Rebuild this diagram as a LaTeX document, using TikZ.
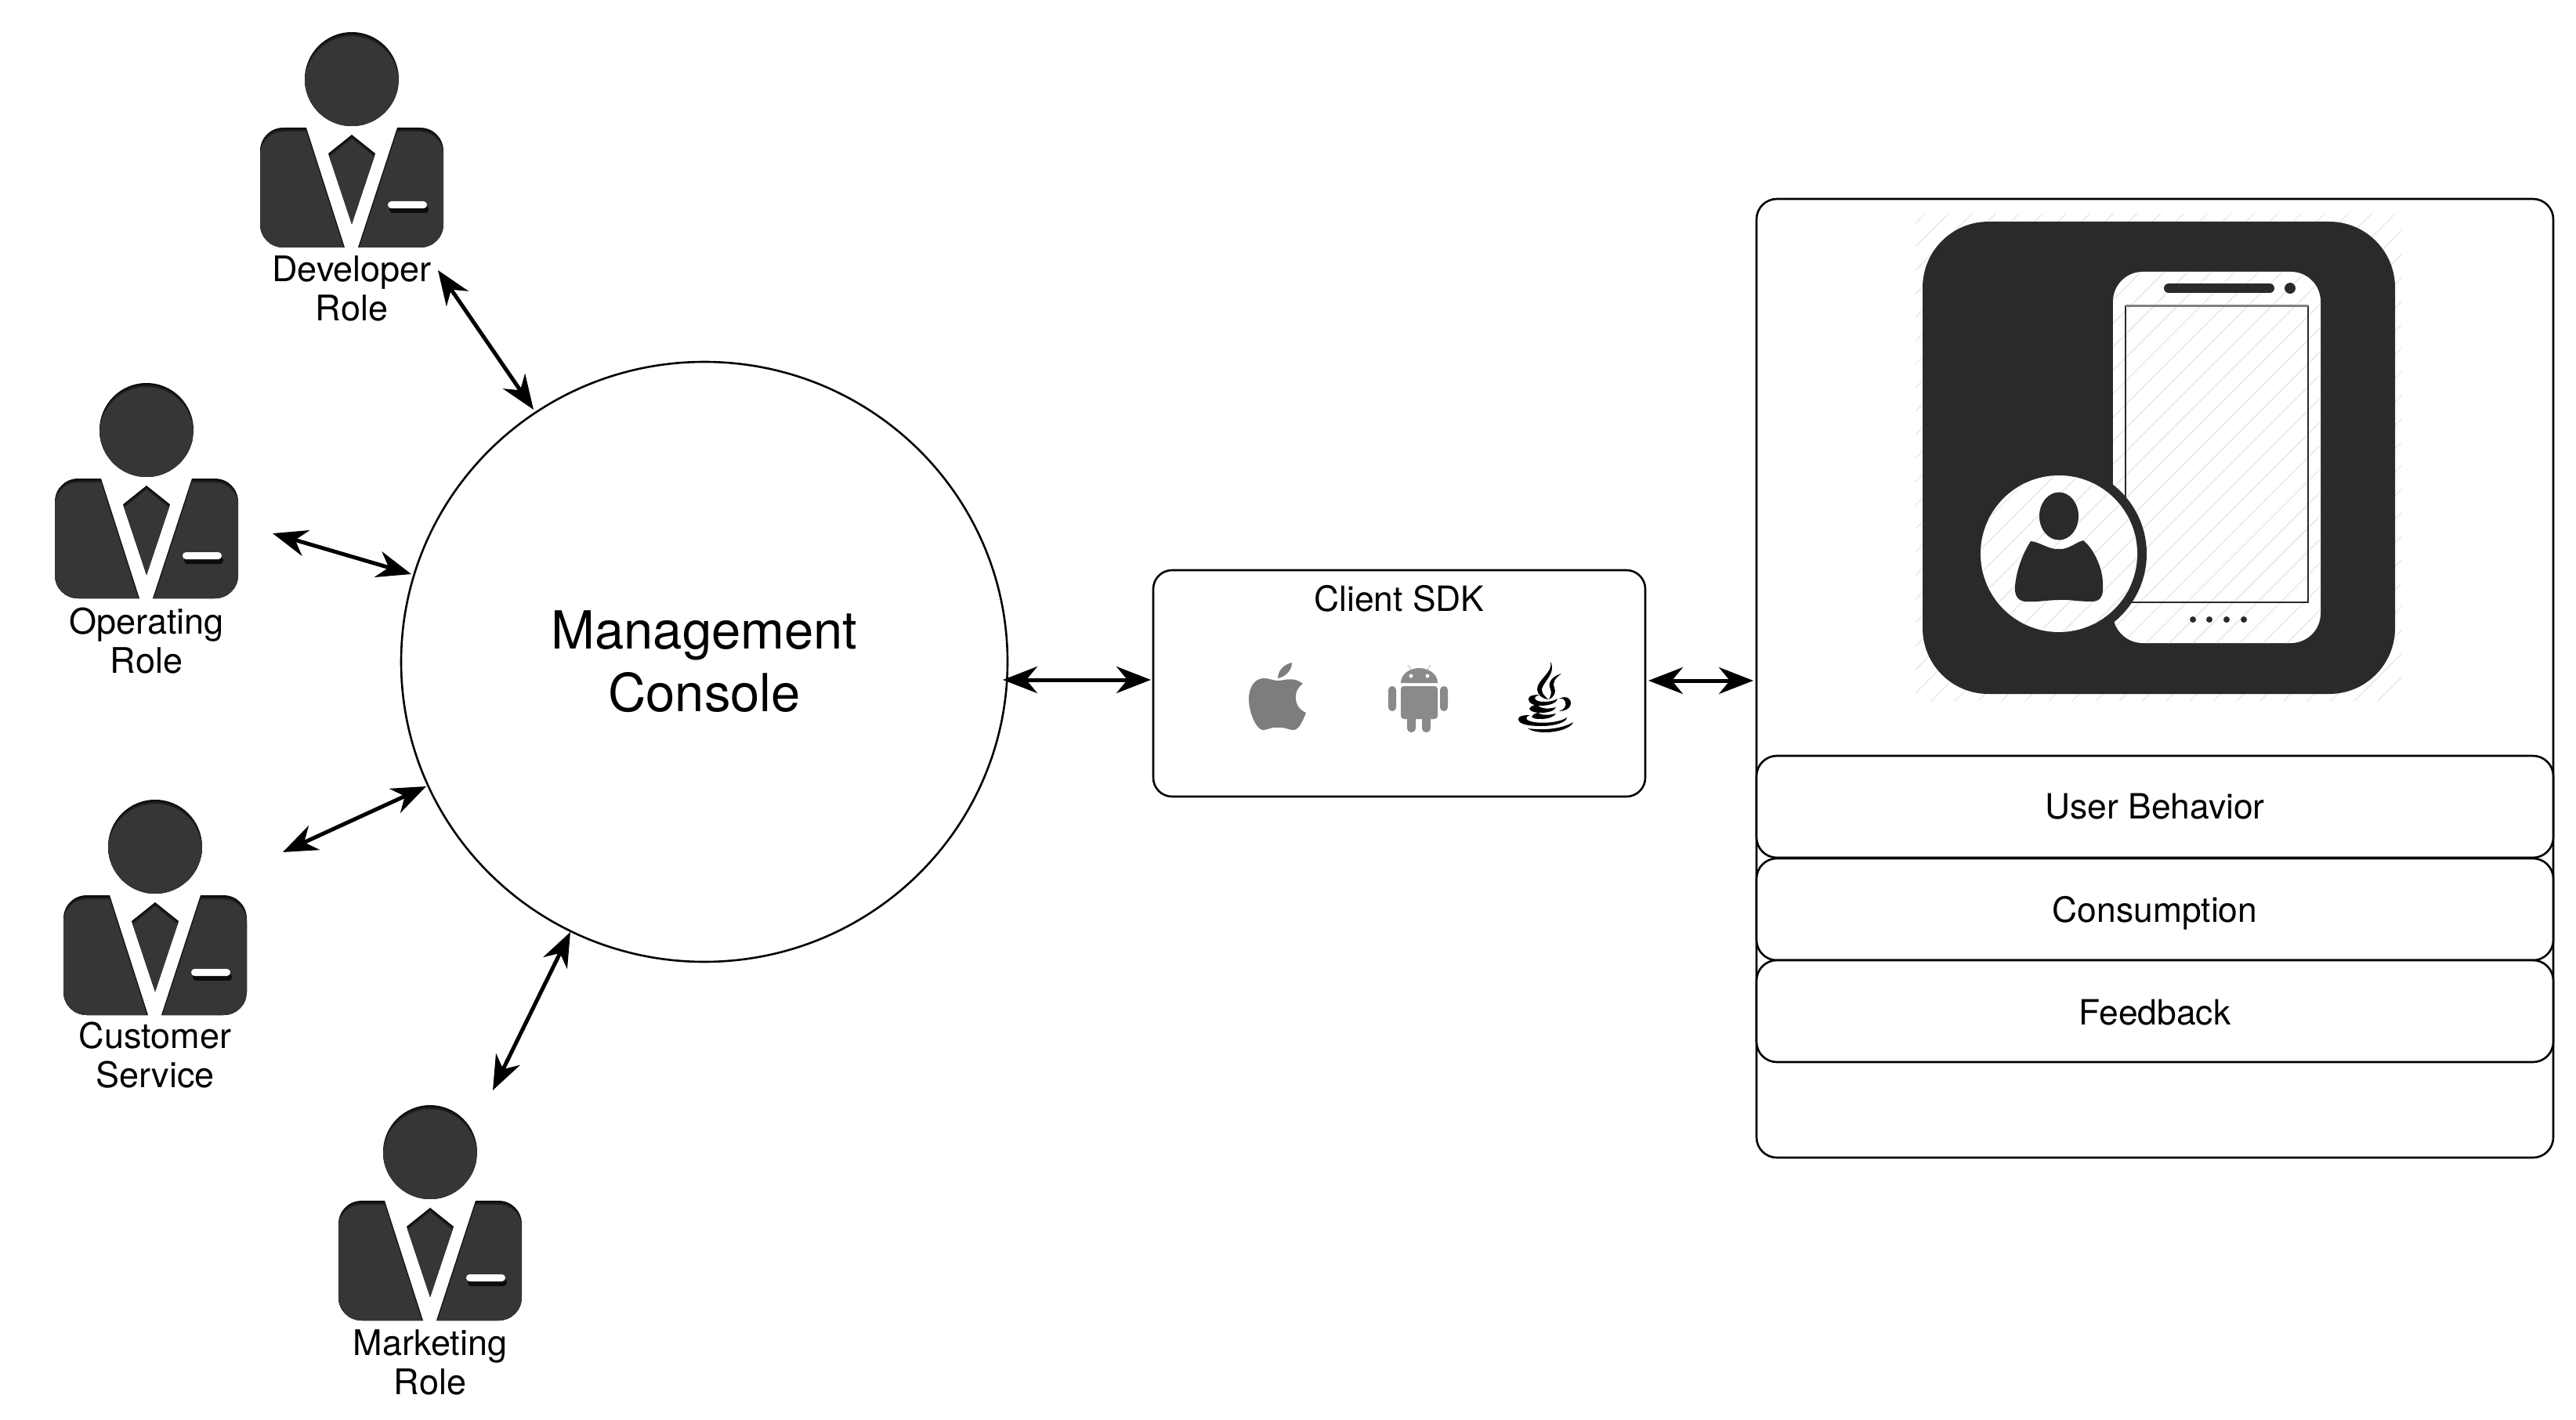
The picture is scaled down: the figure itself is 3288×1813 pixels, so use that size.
\documentclass[tikz,border=0pt]{standalone}
\usepackage{fontspec}
\setmainfont{TeX Gyre Heros}
\usetikzlibrary{arrows.meta,shapes.geometric}
\definecolor{suit}{HTML}{363636}
\definecolor{suitmid}{HTML}{1E1E1E}
\definecolor{suitdark}{HTML}{0C0C0C}
\definecolor{icondark}{HTML}{2B2A29}
\definecolor{stripe}{HTML}{EAEAEA}
\definecolor{applegray}{HTML}{7D7D7D}
\definecolor{droidgray}{HTML}{8A8A8A}
\newcommand{\insetshape}[1]{%
  \fill[suitdark] #1;
  \begin{scope}
    \clip #1;
    \fill[suitmid,yshift=-1.2pt] #1;
    \fill[suit,yshift=-2.6pt] #1;
  \end{scope}}
\tikzset{
  x=0.5pt,y=-0.5pt,
  roletext/.style={align=center,inner sep=0pt,font=\fontsize{22.5}{25}\selectfont},
  boxtext/.style={align=center,inner sep=0pt,font=\fontsize{22.2}{25}\selectfont},
  rowbox/.style={draw=black,line width=1.3pt,fill=white,rounded corners=13pt,minimum width=508.5pt,minimum height=65pt,inner sep=0pt,outer sep=0pt},
  link/.style={line width=2.5pt,{Stealth[length=22pt,width=17pt,inset=7pt]}-{Stealth[length=22pt,width=17pt,inset=7pt]}},
  person/.pic={
    \insetshape{(0,0) circle[radius=60]}
    \insetshape{(-58,62) -- (-9,215) -- (-87,215) .. controls (-104,215) and (-117,202) .. (-117,185) -- (-117,92) .. controls (-117,75) and (-104,62) .. (-87,62) -- cycle}
    \insetshape{(58,62) -- (8,215) -- (87,215) .. controls (104,215) and (117,202) .. (117,185) -- (117,92) .. controls (117,75) and (104,62) .. (87,62) -- cycle}
    \insetshape{(0,71) -- (-30,95) -- (0,185) -- (30,95) -- cycle}
    \fill[suitdark,rounded corners=2pt] (48,162) rectangle (98,171);
    \fill[white,rounded corners=2.2pt] (46,156) rectangle (96,165);
  }
}
\begin{document}
\begin{tikzpicture}
\useasboundingbox (0,0) rectangle (3288,1813);

% roles
\pic at (449,101) {person};
\pic at (187,549) {person};
\pic at (198,1081) {person};
\pic at (549,1471) {person};
\node[roletext] (devlabel) at (449,368) {Developer\\Role};
\node[roletext] (oplabel) at (187,818) {Operating\\Role};
\node[roletext] (cslabel) at (198,1347) {Customer\\Service};
\node[roletext] (mklabel) at (549,1739) {Marketing\\Role};

% console
\node[ellipse,draw=black,line width=1.3pt,minimum width=387pt,minimum height=383pt,inner sep=0pt,outer sep=0pt,align=center,font=\fontsize{33.5}{40}\selectfont] (mc) at (899,845) {Management\\Console};

% sdk
\node[draw=black,line width=1.3pt,rounded corners=12pt,minimum width=314pt,minimum height=144.5pt,inner sep=0pt,outer sep=0pt] (sdk) at (1786,872.5) {};
\node[boxtext] (sdklabel) at (1786,764) {Client SDK};

% apple
\fill[applegray] (1649,846) .. controls (1649,856) and (1641,864) .. (1631,866) .. controls (1631,856) and (1639,848) .. (1649,846) -- cycle;
\fill[applegray] (1631,869) .. controls (1640,869) and (1650,863) .. (1663,873)
  .. controls (1650,881) and (1650,903) .. (1667,910)
  .. controls (1663,920) and (1658,932) .. (1651,932)
  .. controls (1644,932) and (1640,928) .. (1631,929)
  .. controls (1622,928) and (1618,932) .. (1612,932)
  .. controls (1604,932) and (1594,910) .. (1594,893)
  .. controls (1594,874) and (1604,866) .. (1613,866)
  .. controls (1620,866) and (1625,869) .. (1631,869) -- cycle;

% android
\fill[droidgray] (1788,872) .. controls (1788,860) and (1800,853) .. (1811.5,853) .. controls (1823,853) and (1835,860) .. (1835,872) -- cycle;
\fill[white] (1801,863) circle[radius=2.5] (1822,863) circle[radius=2.5];
\draw[droidgray!50,line width=0.6pt] (1797,849) -- (1801,855) (1826,849) -- (1822,855);
\fill[droidgray,rounded corners=2pt] (1788,876) -- (1835,876) -- (1835,918) -- (1788,918) -- cycle;
\fill[droidgray,rounded corners=2.5pt] (1772,876) rectangle (1782,908) (1838,876) rectangle (1848,908);
\fill[droidgray,rounded corners=2.5pt] (1796,910) rectangle (1807,935) (1815,910) rectangle (1826,935);

% java
\fill[black] (1979,845) .. controls (1983,858) and (1962,868) .. (1962,880) .. controls (1962,886) and (1968,892) .. (1976,893) .. controls (1971,888) and (1966,884) .. (1969,877) .. controls (1973,868) and (1986,858) .. (1979,845) -- cycle;
\fill[black] (1993,860) .. controls (1980,864) and (1975,872) .. (1979,880) .. controls (1981,885) and (1979,889) .. (1977,893) .. controls (1985,889) and (1986,883) .. (1984,878) .. controls (1981,871) and (1985,866) .. (1993,860) -- cycle;
\fill[black] (1951,893) .. controls (1950,888) and (1958,887) .. (1966,887) .. controls (1955,889) and (1958,896) .. (1970,896) .. controls (1978,896) and (1984,895) .. (1988,892) .. controls (1986,899) and (1975,901) .. (1966,901) .. controls (1958,901) and (1951,898) .. (1951,893) -- cycle;
\fill[black] (1952,905) .. controls (1954,901) and (1958,900) .. (1962,900) .. controls (1968,906) and (1978,905) .. (1986,903) .. controls (1984,908) and (1975,910) .. (1967,910) .. controls (1960,910) and (1954,909) .. (1952,905) -- cycle;
\fill[black] (1955,915) .. controls (1956,912) and (1959,911) .. (1963,910) .. controls (1968,914) and (1977,913) .. (1986,911) .. controls (1983,916) and (1974,918) .. (1968,918) .. controls (1962,918) and (1957,918) .. (1955,915) -- cycle;
\fill[black] (1990,908) .. controls (1996,906) and (2000,902) .. (1998,896) .. controls (1996,892) and (1993,891) .. (1990,892) .. controls (2000,887) and (2006,893) .. (2005,899) .. controls (2004,905) and (1997,908) .. (1990,908) -- cycle;
\fill[black] (1938,918) .. controls (1938,914) and (1945,913) .. (1953,913) .. controls (1945,916) and (1947,920) .. (1958,922) .. controls (1972,924) and (1992,922) .. (2000,916) .. controls (2000,922) and (1985,927) .. (1967,927) .. controls (1952,927) and (1938,925) .. (1938,918) -- cycle;
\fill[black] (1950,930) .. controls (1972,933) and (1995,930) .. (2008,922) .. controls (2005,930) and (1988,935) .. (1972,935) .. controls (1962,935) and (1954,933) .. (1950,930) -- cycle;

% app container
\node[rowbox,fill=none,minimum height=612pt] (app) at (2750.5,866) {};
\node[rowbox] (behavior) at (2750.5,1030) {};
\node[rowbox] (consume) at (2750.5,1161) {};
\node[rowbox] (feedback) at (2750.5,1291) {};
\node[boxtext] (behaviorlabel) at (2750.5,1030) {User Behavior};
\node[boxtext] (consumelabel) at (2750.5,1166) {Consumption};
\node[boxtext] (feedbacklabel) at (2750.5,1293) {Feedback};

% phone icon
\begin{scope}
  \clip (2445,273) rectangle (3065,894);
  \foreach \k in {0,...,52}
    \draw[stripe,line width=0.8pt] ({1800+30*\k},900) -- ({2440+30*\k},260);
\end{scope}
\fill[icondark,rounded corners=42pt] (2454,283) rectangle (3057,886);
\fill[white,rounded corners=19pt] (2697,347) rectangle (2962,821);
\begin{scope}
  \clip[rounded corners=19pt] (2697,347) rectangle (2962,821);
  \foreach \k in {0,...,40}
    \draw[stripe,line width=0.8pt] ({2000+30*\k},900) -- ({2640+30*\k},260);
\end{scope}
\draw[icondark,line width=1.2pt] (2713,391) rectangle (2946,769);
\draw[gray,line width=1.5pt] (2713,391) -- (2946,391);
\fill[icondark,rounded corners=3pt] (2762,362) rectangle (2903,374);
\fill[icondark] (2923,368) circle[radius=7];
\foreach \dx in {2799,2820,2842,2864}
  \fill[icondark] (\dx,791) circle[radius=4];
\fill[icondark] (2628,707) circle[radius=112];
\fill[white] (2628,707) circle[radius=100];
\begin{scope}
  \clip (2628,707) circle[radius=100];
  \foreach \k in {0,...,40}
    \draw[stripe,line width=0.8pt] ({2000+30*\k},900) -- ({2640+30*\k},260);
\end{scope}
\fill[icondark] (2628,659) ellipse[x radius=25,y radius=30.5];
\fill[icondark] (2592,691) .. controls (2604,692) and (2615,702) .. (2628,701)
  .. controls (2640,702) and (2650,692) .. (2659,690)
  .. controls (2672,700) and (2684,725) .. (2684,745)
  .. controls (2685,758) and (2683,768) .. (2670,768)
  .. controls (2650,768) and (2640,765) .. (2628,766)
  .. controls (2615,766) and (2600,769) .. (2585,768)
  .. controls (2574,767) and (2571,758) .. (2572,748)
  .. controls (2574,725) and (2584,703) .. (2592,691) -- cycle;

% connector ends
\coordinate (devend) at (559,345);
\coordinate (devmc) at (681,523);
\coordinate (opend) at (348,681);
\coordinate (opmc) at (525,733);
\coordinate (csend) at (361,1088);
\coordinate (csmc) at (544,1004);
\coordinate (mkend) at (629,1392);
\coordinate (mkmc) at (728,1190);
\coordinate (mcright) at (1280,868);
\coordinate (sdkleft) at (1469,868);
\coordinate (sdkright) at (2104,869);
\coordinate (appleft) at (2238,869);
\draw[link] (devend) -- (devmc);
\draw[link] (opend) -- (opmc);
\draw[link] (csend) -- (csmc);
\draw[link] (mkend) -- (mkmc);
\draw[link] (mcright) -- (sdkleft);
\draw[link] (sdkright) -- (appleft);
\end{tikzpicture}
\end{document}
